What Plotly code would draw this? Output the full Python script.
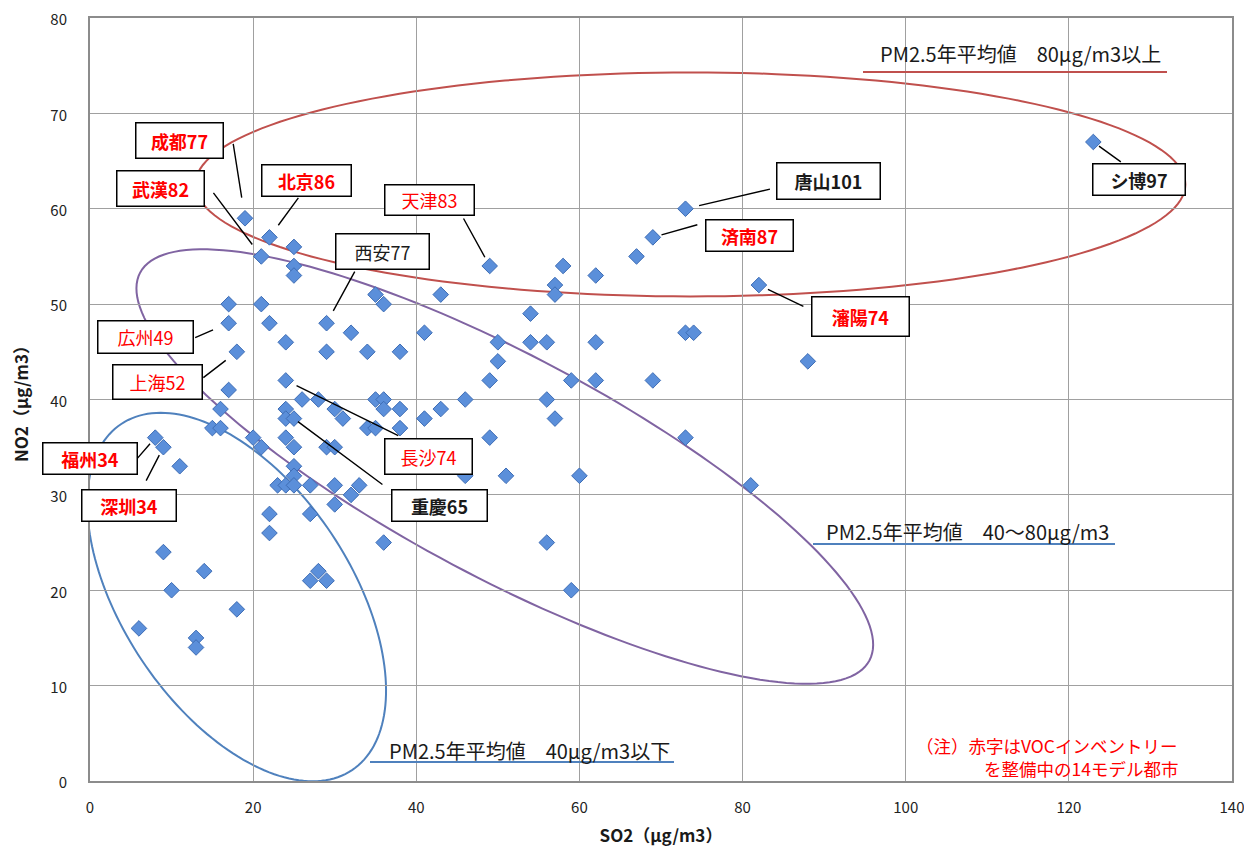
import math
import plotly.graph_objects as go

# ---------------- data ----------------
so2 = [19, 22, 25, 21, 25, 25, 49, 58, 62, 67, 69, 73, 123,
       57, 57, 35, 36, 43, 17, 21, 54, 82, 17, 22, 29, 32, 41,
       24, 29, 34, 38, 18, 50, 54, 56, 62, 73, 74, 50, 88,
       17, 24, 49, 59, 62, 69, 16, 26, 28, 24, 30, 35, 36, 36, 38, 43, 46, 56,
       57, 41, 24, 25, 31, 34, 35, 38, 15, 16, 49, 73, 8, 9, 11,
       20, 21, 24, 25, 29, 30, 25, 25, 23, 24, 25, 27, 30, 33, 32, 30,
       46, 51, 60, 81, 8, 22, 27, 22, 36, 56, 9, 14, 28, 27, 29, 59, 10,
       18, 6, 13, 13]
no2 = [59, 57, 56, 55, 54, 53, 54, 54, 53, 55, 57, 60, 67,
       52, 51, 51, 50, 51, 50, 50, 49, 52, 48, 48, 48, 47, 47,
       46, 45, 45, 45, 45, 46, 46, 46, 46, 47, 47, 44, 44,
       41, 42, 42, 42, 42, 42, 39, 40, 40, 39, 39, 40, 40, 39, 39, 39, 40, 40,
       38, 38, 38, 38, 38, 37, 37, 37, 37, 37, 36, 36, 36, 35, 33,
       36, 35, 36, 35, 35, 35, 33, 32, 31, 31, 31, 31, 31, 31, 30, 29,
       32, 32, 32, 31, 28, 28, 28, 26, 25, 25, 24, 22, 22, 21, 21, 20, 20,
       18, 16, 15, 14]

# labelled cities (name + annual PM2.5) and their SO2 / NO2 values
label_text = ["成都77", "武漢82", "北京86", "天津83", "西安77", "広州49", "上海52",
              "福州34", "深圳34", "長沙74", "重慶65", "唐山101", "済南87", "瀋陽74", "シ博97"]
label_so2 = [19, 21, 22, 49, 29, 17, 18, 8, 9, 24, 25, 73, 69, 82, 123]
label_no2 = [59, 55, 57, 54, 48, 48, 45, 36, 35, 42, 38, 60, 57, 52, 67]
label_model_city = [True, True, True, True, False, True, True,
                    True, True, True, False, False, True, True, False]

x_ticks = [0, 20, 40, 60, 80, 100, 120, 140]
y_ticks = [0, 10, 20, 30, 40, 50, 60, 70, 80]

x_title = "SO2（μg/m3）"
y_title = "NO2（μg/m3）"
band_texts = ["PM2.5年平均値　80μg/m3以上",
              "PM2.5年平均値　40～80μg/m3",
              "PM2.5年平均値　40μg/m3以下"]
note_lines = ["（注）赤字はVOCインベントリー", "を整備中の14モデル都市"]

# ---------------- layout / style ----------------
PAGE_OFF = 8                      # default body margin of the html page
SX0, SX1, SY0, SY1 = 90, 1232, 18, 781   # plot area in screen pixels
W, H = 1252 - PAGE_OFF, 850 - PAGE_OFF
ML, MT = SX0 - PAGE_OFF, SY0 - PAGE_OFF
MR, MB = W - (SX1 - PAGE_OFF), H - (SY1 - PAGE_OFF)
PW, PH = SX1 - SX0, SY1 - SY0
X_RANGE = [0, 140]
Y_RANGE = [0, 80]
KX = PW / (X_RANGE[1] - X_RANGE[0])
KY = PH / (Y_RANGE[1] - Y_RANGE[0])
FONT = "Noto Sans CJK JP"


def paper_x(px):
    return (px - SX0) / PW


def paper_y(py):
    return (SY1 - py) / PH


# label box layout: box-centre offset (px, y down), box size, leader tail offset, standoff, bold
LABEL_LAYOUT = {
    "成都77": dict(bx=-65, by=-78, w=89, h=37, lx=-12, ly=-76, so=21, bold=True),
    "武漢82": dict(bx=-101, by=-68, w=89, h=37, lx=-49, ly=-65, so=15, bold=True),
    "北京86": dict(bx=37, by=-57, w=91, h=33, lx=30, ly=-41, so=15, bold=True),
    "天津83": dict(bx=-60, by=-66, w=91, h=32, lx=-27, ly=-49, so=10, bold=False),
    "西安77": dict(bx=56, by=-72, w=95, h=37, lx=29, ly=-53, so=14, bold=False),
    "広州49": dict(bx=-83, by=14, w=97, h=34, lx=-35, ly=15, so=17, bold=False),
    "上海52": dict(bx=-79, by=30, w=91, h=36, lx=-35, ly=27, so=14, bold=False),
    "福州34": dict(bx=-65, by=21, w=96, h=33, lx=-19, ly=22, so=8, bold=True),
    "深圳34": dict(bx=-34, by=58, w=96, h=33, lx=-18, ly=35, so=9, bold=True),
    "長沙74": dict(bx=143, by=76, w=89, h=37, lx=114, ly=56, so=12, bold=False),
    "重慶65": dict(bx=146, by=87, w=97, h=33, lx=90, ly=67, so=5, bold=True),
    "唐山101": dict(bx=143, by=-28, w=105, h=38, lx=86, ly=-20, so=14, bold=True),
    "済南87": dict(bx=97, by=-2, w=89, h=33, lx=46, ly=-13, so=9, bold=True),
    "瀋陽74": dict(bx=102, by=31, w=99, h=41, lx=46, ly=22, so=10, bold=True),
    "シ博97": dict(bx=46, by=38, w=94, h=33, lx=29, ly=21, so=7, bold=True),
}

# group ellipses: centre in data units, semi-axes in px, rotation (deg, screen)
ELLIPSES = [
    dict(cx=73.6, cy=62.55, a=495, b=112, ang=0.0, color="#C0504D"),
    dict(cx=50.85, cy=32.97, a=413, b=111, ang=28.0, color="#8064A2"),
    dict(cx=17.98, cy=19.29, a=208, b=114, ang=56.3, color="#4F81BD"),
]

# band captions: text centre (px), underline (x0, x1, y) in px, underline colour
BAND_LAYOUT = [
    dict(tx=1020, ty=54, ux0=863, ux1=1167, uy=72, color="#C0504D"),
    dict(tx=967, ty=531, ux0=813, ux1=1115, uy=544, color="#4F81BD"),
    dict(tx=529, ty=750, ux0=370, ux1=674, uy=762, color="#4F81BD"),
]
NOTE_LAYOUT = [dict(x=1180, y=745), dict(x=1180, y=768)]

fig = go.Figure()

fig.add_trace(go.Scatter(
    x=so2, y=no2, mode="markers",
    marker=dict(symbol="diamond", size=12, color="#5B8FDA",
                line=dict(color="#3E6DB5", width=1)),
    hoverinfo="skip", showlegend=False,
))

shapes = []
for e in ELLIPSES:
    th = math.radians(e["ang"])
    pts = []
    for k in range(0, 181):
        t = 2 * math.pi * k / 180
        dx = e["a"] * math.cos(t) * math.cos(th) - e["b"] * math.sin(t) * math.sin(th)
        dy = e["a"] * math.cos(t) * math.sin(th) + e["b"] * math.sin(t) * math.cos(th)
        pts.append((e["cx"] + dx / KX, e["cy"] - dy / KY))
    path = "M " + " L ".join(f"{x:.4f},{y:.4f}" for x, y in pts) + " Z"
    shapes.append(dict(type="path", path=path, xref="x", yref="y", layer="below",
                       line=dict(color=e["color"], width=2)))

annotations = []
for txt, lay in zip(band_texts, BAND_LAYOUT):
    annotations.append(dict(
        text=txt, xref="paper", yref="paper", x=paper_x(lay["tx"]), y=paper_y(lay["ty"]),
        xanchor="center", yanchor="middle", showarrow=False,
        font=dict(family=FONT, size=20, color="#1a1a1a")))
    shapes.append(dict(type="line", xref="paper", yref="paper",
                       x0=paper_x(lay["ux0"]), x1=paper_x(lay["ux1"]),
                       y0=paper_y(lay["uy"]), y1=paper_y(lay["uy"]),
                       line=dict(color=lay["color"], width=2)))

for txt, lay in zip(note_lines, NOTE_LAYOUT):
    annotations.append(dict(
        text=txt, xref="paper", yref="paper", x=paper_x(lay["x"]), y=paper_y(lay["y"]),
        xanchor="right", yanchor="middle", align="right", showarrow=False,
        font=dict(family=FONT, size=17.5, color="#FF0000")))

for name, lx, ly, red in zip(label_text, label_so2, label_no2, label_model_city):
    L = LABEL_LAYOUT[name]
    annotations.append(dict(
        x=lx, y=ly, xref="x", yref="y", text="", showarrow=True,
        arrowhead=0, arrowwidth=1.4, arrowcolor="#000000",
        ax=L["lx"], ay=L["ly"], standoff=L["so"]))
    annotations.append(dict(
        x=lx, y=ly, xref="x", yref="y", text=name, showarrow=False,
        xshift=L["bx"], yshift=-L["by"], xanchor="center", yanchor="middle",
        width=L["w"] - 3, height=L["h"] - 3, align="center", valign="middle",
        bgcolor="#FFFFFF", bordercolor="#000000", borderwidth=1.5, borderpad=0,
        font=dict(family=FONT, size=18, color="#FF0000" if red else "#1a1a1a",
                  weight="bold" if L["bold"] else "normal")))

axis_common = dict(
    showgrid=True, gridcolor="#A0A0A0", gridwidth=1.4,
    showline=True, linecolor="#8C8C8C", linewidth=2, mirror=True,
    zeroline=False, ticks="", automargin=False, ticklabeloverflow="allow",
    tickfont=dict(family=FONT, size=15, color="#222222"),
)

fig.update_layout(
    width=W, height=H,
    margin=dict(l=ML, r=MR, t=MT, b=MB),
    paper_bgcolor="white", plot_bgcolor="white",
    showlegend=False,
    xaxis=dict(range=X_RANGE, tickvals=x_ticks, ticktext=[str(v) for v in x_ticks],
               ticklabelstandoff=12,
               title=dict(text=x_title, standoff=14,
                          font=dict(family=FONT, size=17, color="#1a1a1a", weight="bold")),
               **axis_common),
    yaxis=dict(range=Y_RANGE, tickvals=y_ticks, ticktext=[str(v) for v in y_ticks],
               ticklabelstandoff=18, ticklabelshift=2,
               title=dict(text=y_title, standoff=20,
                          font=dict(family=FONT, size=17, color="#1a1a1a", weight="bold")),
               **axis_common),
    shapes=shapes,
    annotations=annotations,
)

fig.write_html("out.html")
